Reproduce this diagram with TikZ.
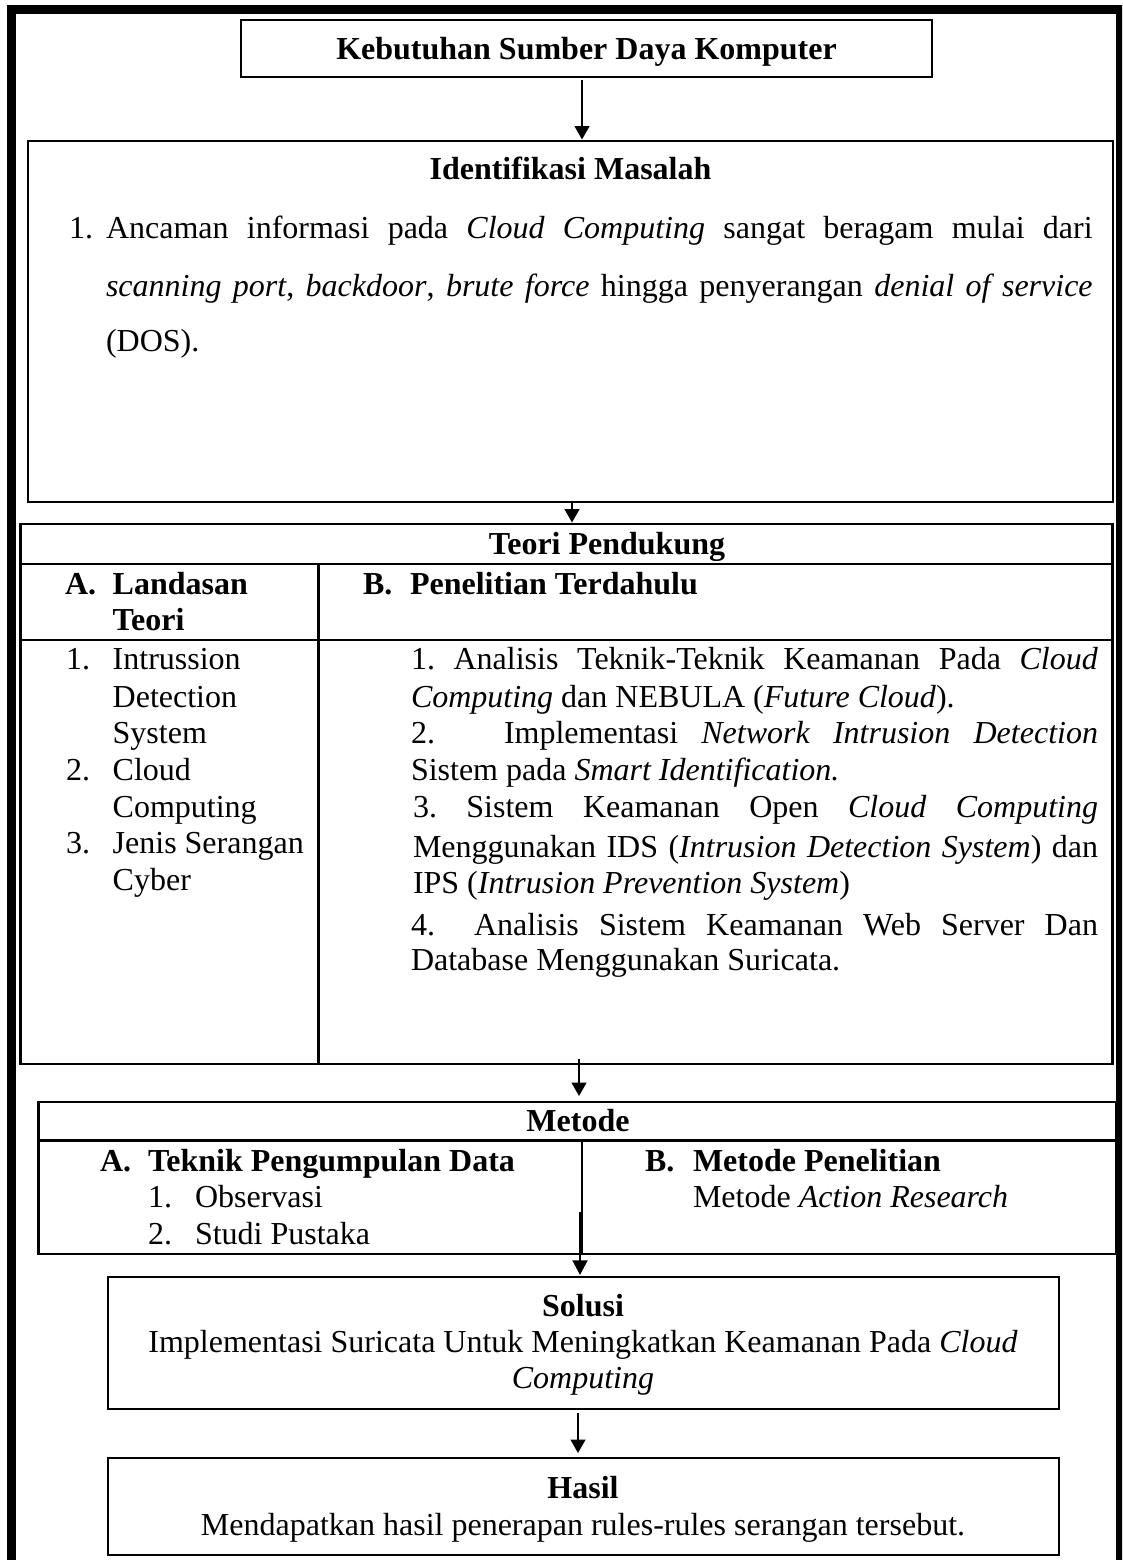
\documentclass[tikz,border=0pt]{standalone}
\usepackage{fontspec}
\setmainfont{Liberation Serif}
\usetikzlibrary{arrows.meta,fit,calc}
\frenchspacing
\begin{document}
\frenchspacing
\begin{tikzpicture}[x=0.375pt,y=-0.375pt,
  every node/.style={font=\fontsize{12pt}{14pt}\selectfont\frenchspacing, inner sep=0pt, outer sep=0pt},
  txt/.style={anchor=base west},
  ctr/.style={anchor=base},
  thinbox/.style={draw, line width=0.75pt, inner sep=0pt},
  tblbox/.style={draw, line width=1.1pt, inner sep=0pt},
  tblline/.style={line width=1.1pt},
  arr/.style={line width=0.7pt, -{Triangle[length=5pt,width=5.5pt]}},
  arrthick/.style={line width=1.1pt, -{Triangle[length=5.5pt,width=5.5pt]}},
]
\useasboundingbox (0,0) rectangle (1122,1560);
\clip (0,0) rectangle (1122,1560);
\fill[white] (0,0) rectangle (1122,1560);
% outer frame
\draw[line width=3.4pt] (11.5,1560) -- (11.5,9.5) -- (1121,9.5) -- (1121,1560);

% Kebutuhan
\coordinate (k1) at (241,20); \coordinate (k2) at (932,77.5);
\node[thinbox, fit=(k1)(k2)] (keb) {};
\node[ctr] (kebt) at (586.5,60) {\textbf{Kebutuhan Sumber Daya Komputer}};

% Identifikasi Masalah
\coordinate (i1) at (28,141); \coordinate (i2) at (1113,502);
\node[thinbox, line width=0.7pt, fit=(i1)(i2)] (idm) {};
\node[ctr] (idmt) at (570.5,180) {\textbf{Identifikasi Masalah}};
\node[txt] (idn1) at (69,239) {1.};
\node[txt] (idl1) at (106,239) {\makebox[370pt][s]{Ancaman informasi pada \textit{Cloud Computing} sangat beragam mulai dari}};
\node[txt] (idl2) at (106,297) {\makebox[370pt][s]{\textit{scanning port}, \textit{backdoor}, \textit{brute force} hingga penyerangan \textit{denial of service}}};
\node[txt] (idl3) at (106,352) {(DOS).};

% Teori Pendukung table
\coordinate (t1) at (20.7,524); \coordinate (t2) at (1112.5,1064);
\node[tblbox, fit=(t1)(t2)] (teori) {};
\coordinate (th) at (0,564); \coordinate (tr) at (0,640); \coordinate (tv) at (318.7,0);
\draw[tblline] (teori.west |- th) -- (teori.east |- th);
\draw[tblline] (teori.west |- tr) -- (teori.east |- tr);
\draw[tblline] (tv |- th) -- (tv |- teori.south);
\node[ctr] (teorit) at (607,554) {\textbf{Teori Pendukung}};
\node[txt] (ta) at (65,594) {\textbf{A.}};
\node[txt] (ta1) at (112.7,594) {\textbf{Landasan}};
\node[txt] (ta2) at (112.7,630) {\textbf{Teori}};
\node[txt] (tb) at (363,594) {\textbf{B.}};
\node[txt] (tb1) at (410,594) {\textbf{Penelitian Terdahulu}};
% left list
\node[txt] (ln1) at (66,669) {1.};
\node[txt] (ll1) at (112.7,669) {Intrussion};
\node[txt] (ll2) at (112.7,707) {Detection};
\node[txt] (ll3) at (112.7,743) {System};
\node[txt] (ln2) at (66,780) {2.};
\node[txt] (ll4) at (112.7,780) {Cloud};
\node[txt] (ll5) at (112.7,817) {Computing};
\node[txt] (ln3) at (66,853) {3.};
\node[txt] (ll6) at (112.7,853) {Jenis Serangan};
\node[txt] (ll7) at (112.7,890) {Cyber};
% right column
\node[txt] (r1) at (411,669) {\makebox[257.6pt][s]{1. Analisis Teknik-Teknik Keamanan Pada \textit{Cloud}}};
\node[txt] (r2) at (411,707) {\textit{Computing} dan NEBULA (\textit{Future Cloud}).};
\node[txt] (r3n) at (411,743) {2.};
\node[txt] (r3) at (504,743) {\makebox[222.75pt][s]{Implementasi \textit{Network Intrusion Detection}}};
\node[txt] (r4) at (411,780) {Sistem pada \textit{Smart Identification.}};
\node[txt] (r5) at (413,817) {\makebox[256.9pt][s]{3. Sistem Keamanan Open \textit{Cloud Computing}}};
\node[txt] (r6) at (413,857) {\makebox[256.9pt][s]{Menggunakan IDS (\textit{Intrusion Detection System}) dan}};
\node[txt] (r7) at (413,893) {IPS (\textit{Intrusion Prevention System})};
\node[txt] (r8n) at (411,935) {4.};
\node[txt] (r8) at (474,935) {\makebox[234pt][s]{Analisis Sistem Keamanan Web Server Dan}};
\node[txt] (r9) at (411,970) {Database Menggunakan Suricata.};

% Metode table
\coordinate (m1) at (38.7,1102); \coordinate (m2) at (1116,1254);
\node[tblbox, fit=(m1)(m2)] (met) {};
\coordinate (mh) at (0,1140.5); \coordinate (mv) at (582,0);
\draw[tblline] (met.west |- mh) -- (met.east |- mh);
\draw[tblline] (mv |- mh) -- (mv |- met.south);
\node[ctr] (mett) at (578,1131) {\textbf{Metode}};
\node[txt] (ma) at (100,1171) {\textbf{A.}};
\node[txt] (ma1) at (148,1171) {\textbf{Teknik Pengumpulan Data}};
\node[txt] (man1) at (148,1207) {1.};
\node[txt] (mal1) at (195,1207) {Observasi};
\node[txt] (man2) at (148,1244) {2.};
\node[txt] (mal2) at (195,1244) {Studi Pustaka};
\node[txt] (mb) at (645,1171) {\textbf{B.}};
\node[txt] (mb1) at (693,1171) {\textbf{Metode Penelitian}};
\node[txt] (mb2) at (693,1207) {Metode \textit{Action Research}};

% Solusi
\coordinate (s1) at (107.7,1277); \coordinate (s2) at (1058.5,1408.5);
\node[thinbox, fit=(s1)(s2)] (sol) {};
\node[ctr] (solt) at (583,1316) {\textbf{Solusi}};
\node[ctr] (sol1) at (583,1352) {Implementasi Suricata Untuk Meningkatkan Keamanan Pada \textit{Cloud}};
\node[ctr] (sol2) at (583,1388) {\textit{Computing}};

% Hasil
\coordinate (h1) at (107.7,1457.5); \coordinate (h2) at (1058.5,1555);
\node[thinbox, fit=(h1)(h2)] (has) {};
\node[ctr] (hast) at (583,1498) {\textbf{Hasil}};
\node[ctr] (has1) at (583,1535) {Mendapatkan hasil penerapan rules-rules serangan tersebut.};

% arrows
\coordinate (ax1) at (582,0);
\coordinate (ax2) at (572,0);
\coordinate (ax3) at (579,0);
\coordinate (ax4) at (580,0);
\coordinate (ax5) at (578,0);
\draw[arr] ($(keb.south -| ax1)+(0,2.5)$) -- ($(idm.north -| ax1)+(0,-1.5)$);
\draw[arr] ($(idm.south -| ax2)+(0,1)$) -- ($(teori.north -| ax2)+(0,-1.5)$);
\draw[arr] ($(teori.south -| ax3)+(0,-5)$) -- ($(met.north -| ax3)+(0,-6)$);
\draw[arrthick] ($(met.south -| ax4)+(0,-42)$) -- ($(sol.north -| ax4)+(0,-2)$);
\draw[arr] ($(sol.south -| ax5)+(0,4.5)$) -- ($(has.north -| ax5)+(0,-4.5)$);
\end{tikzpicture}
\end{document}
